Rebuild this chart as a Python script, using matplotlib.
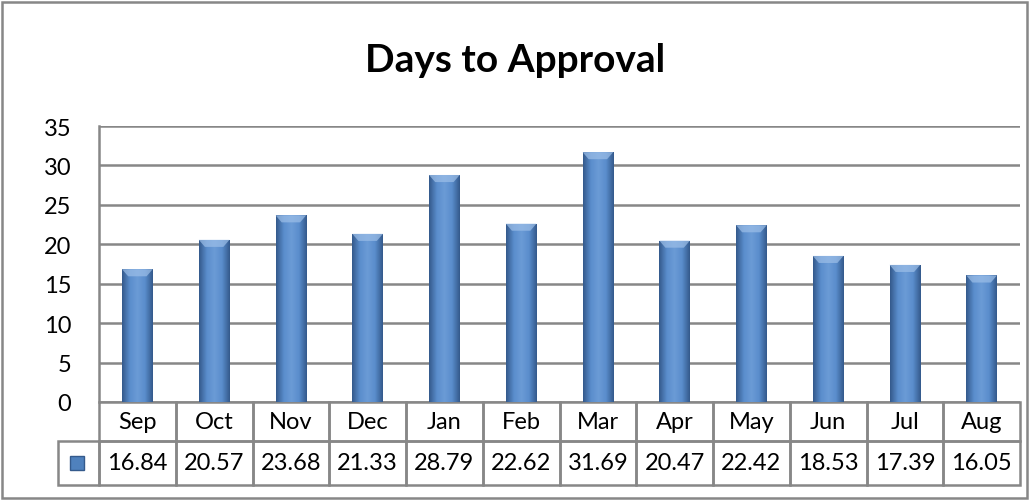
import numpy as np
import matplotlib.pyplot as plt
from matplotlib.patches import Rectangle
from matplotlib.colors import LinearSegmentedColormap

months = ['Sep', 'Oct', 'Nov', 'Dec', 'Jan', 'Feb', 'Mar', 'Apr', 'May', 'Jun', 'Jul', 'Aug']
days = [16.84, 20.57, 23.68, 21.33, 28.79, 22.62, 31.69, 20.47, 22.42, 18.53, 17.39, 16.05]
yticks = [0, 5, 10, 15, 20, 25, 30, 35]

plt.rcParams['font.family'] = ['Lato', 'DejaVu Sans']
grid_col = '#878787'

fig = plt.figure(figsize=(10.3, 5.02), dpi=100)
ax = fig.add_axes([99 / 1030, 1 - 403 / 502, 921 / 1030, 276 / 502])

x = np.arange(len(months))
bars = ax.bar(x, days, width=0.4, color='#4F81BD', zorder=3)

# horizontal shading on every bar, plus a lighter bevel on top
shade = LinearSegmentedColormap.from_list('shade', ['#345A8C', '#5A8DCC', '#6B9BD6', '#5A8DCC', '#345A8C'])
grad = np.linspace(0, 1, 64).reshape(1, -1)
for b in bars:
    x0, w, h = b.get_x(), b.get_width(), b.get_height()
    im = ax.imshow(grad, cmap=shade, aspect='auto', extent=(x0, x0 + w, 0, h), zorder=4)
    im.set_clip_path(b)
    ax.fill([x0, x0 + w, x0 + w * 0.8, x0 + w * 0.2], [h, h, h - 0.9, h - 0.9],
            color='#9DBFE8', alpha=0.7, lw=0, zorder=5)

ax.set_xlim(-0.5, len(months) - 0.5)
ax.set_ylim(0, 35)
ax.set_yticks(yticks)
ax.set_yticklabels([str(t) for t in yticks], fontsize=17)
ax.tick_params(axis='y', length=0, pad=20)
ax.set_xticks([])
ax.grid(axis='y', color=grid_col, lw=1.8, zorder=1)
for s in ['top', 'right', 'bottom']:
    ax.spines[s].set_visible(False)
ax.spines['left'].set_color(grid_col)
ax.spines['left'].set_linewidth(1.8)

# data table under the plot
tr = ax.get_xaxis_transform()
r1, r2 = -39 / 276, -83 / 276
for i, m in enumerate(months):
    ax.add_patch(Rectangle((i - 0.5, r1), 1, -r1, transform=tr, fill=False,
                           ec=grid_col, lw=1.8, clip_on=False))
    ax.add_patch(Rectangle((i - 0.5, r2), 1, r1 - r2, transform=tr, fill=False,
                           ec=grid_col, lw=1.8, clip_on=False))
    ax.text(i, r1 / 2, m, transform=tr, ha='center', va='center', fontsize=17)
    ax.text(i, (r1 + r2) / 2, f'{days[i]:.2f}', transform=tr, ha='center', va='center', fontsize=17)
ax.add_patch(Rectangle((-1.034, r2), 0.534, r1 - r2, transform=tr, fill=False,
                       ec=grid_col, lw=1.8, clip_on=False))
ax.add_patch(Rectangle((-0.88, (r1 + r2) / 2 - 0.025), 0.18, 0.05, transform=tr,
                       color='#4F81BD', ec='#345A8C', lw=1, clip_on=False))

fig.text(0.5, 1 - 60 / 502, 'Days to Approval', ha='center', va='center',
         fontsize=28, fontweight='bold')
fig.patches.append(Rectangle((2 / 1030, 3 / 502), 1025 / 1030, 496 / 502,
                             transform=fig.transFigure, fill=False, ec=grid_col, lw=1.8))

fig.savefig('out.png', dpi=100)
